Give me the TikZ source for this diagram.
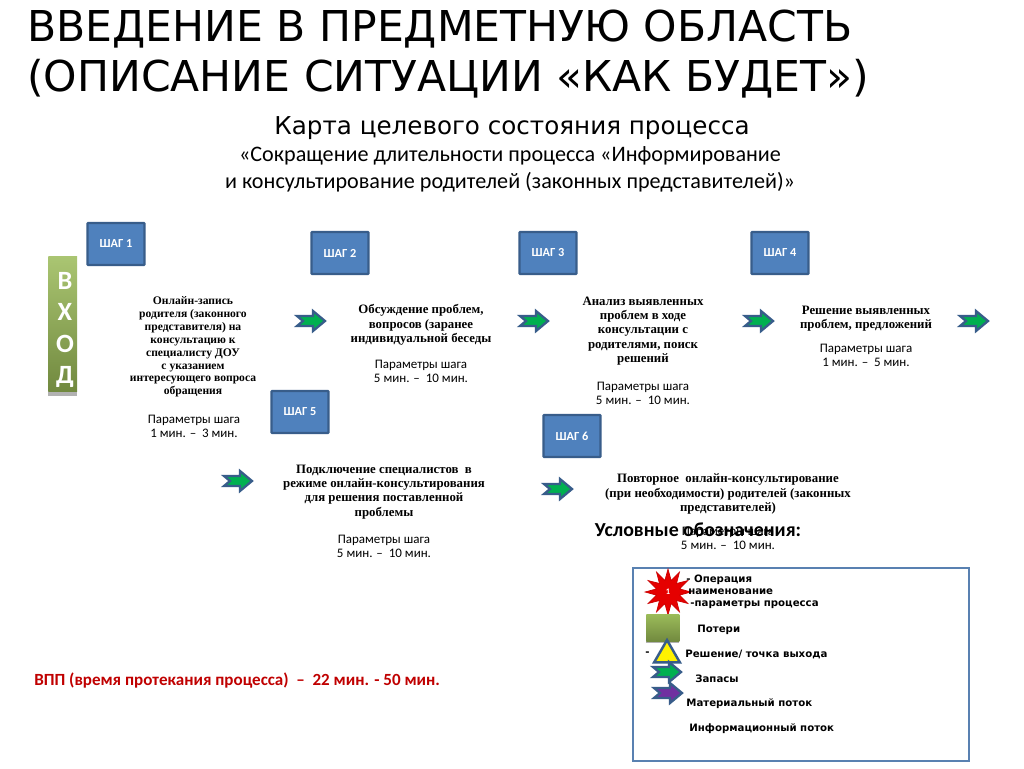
\documentclass[tikz,border=0pt]{standalone}
\usepackage{fontspec}
\setmainfont{Carlito}
\newfontfamily\titlefont{DejaVu Sans}
\newfontfamily\stepfont{Liberation Serif}
\usetikzlibrary{shapes.geometric}
\definecolor{stepblue}{HTML}{4F81BD}
\definecolor{stepline}{HTML}{385D8A}
\definecolor{flowgreen}{HTML}{00B050}
\definecolor{flowviolet}{HTML}{7030A0}
\definecolor{entrygreen}{HTML}{9BBB59}
\definecolor{entrydark}{HTML}{71893F}
\definecolor{vppred}{HTML}{C00000}
\tikzset{
  stepbox/.style={draw=stepline, line width=1.3pt, fill=stepblue, minimum width=32.5pt,
    minimum height=24pt, inner sep=0pt, rounded corners=0.5pt, text=white,
    font=\fontsize{7}{8}\selectfont\bfseries},
  stepname/.style={align=center, font=\fontsize{7.3}{8.1}\stepfont\bfseries},
  stepparam/.style={align=center, font=\fontsize{7.4}{8}\selectfont},
  legendtext/.style={anchor=west, inner sep=0pt, font=\fontsize{5.8}{6}\titlefont\bfseries},
  pics/flowarrow/.style={code={
    \draw[draw=stepline, line width=1.3pt, fill=#1, line join=miter]
      (-14,-5) -- (2,-5) -- (2,-10) -- (14,0) -- (2,10) -- (2,5) -- (-14,5) -- (-8,0) -- cycle;
  }}
}
\begin{document}
\begin{tikzpicture}[x=0.02cm, y=-0.02cm]
  \useasboundingbox (0,0) rectangle (1024,768);
  \fill[white] (0,0) rectangle (1024,768);

  %% ---------- title block ----------
  \node[anchor=west, inner sep=0pt, align=left, font=\fontsize{24.2}{28.6}\titlefont] (title) at (27,54)
    {ВВЕДЕНИЕ В ПРЕДМЕТНУЮ ОБЛАСТЬ\\(ОПИСАНИЕ СИТУАЦИИ «КАК БУДЕТ»)};
  \node[inner sep=0pt, font=\fontsize{14}{16}\titlefont] (maptitle) at (512,128) {Карта целевого состояния процесса};
  \node[inner sep=0pt, align=center, font=\fontsize{12.6}{15.4}\selectfont] (mapname) at (510,169)
    {«Сокращение длительности процесса «Информирование\\и консультирование родителей (законных представителей)»};

  %% ---------- entry bar ----------
  \fill[gray!60] (48,257) rectangle (77,396);
  \node[minimum width=16.4pt, minimum height=77pt, inner sep=0pt, anchor=north west,
    top color=entrygreen!85!white, bottom color=entrydark] (entry) at (48,256) {};
  \node[inner sep=0pt, align=center, text=white, font=\fontsize{15}{17.8}\selectfont\bfseries]
    (entrytext) at (65,330) {В\\Х\\О\\Д};

  %% ---------- steps ----------
  \node[stepbox] (s1) at (116,244) {ШАГ 1};
  \node[stepbox] (s2) at (340,253) {ШАГ 2};
  \node[stepbox] (s3) at (548,253) {ШАГ 3};
  \node[stepbox] (s4) at (780,253) {ШАГ 4};
  \node[stepbox] (s5) at (300,412) {ШАГ 5};
  \node[stepbox] (s6) at (572,436) {ШАГ 6};

  \node[stepname, font=\fontsize{6.6}{7.3}\stepfont\bfseries] (n1) at (193,347) {Онлайн-запись\\родителя (законного\\представителя) на\\консультацию к\\специалисту ДОУ\\с указанием\\интересующего вопроса\\обращения};
  \node[stepparam] (p1) at (194,426) {Параметры шага\\1 мин. –\ \ 3 мин.};
  \node[stepname] (n2) at (421,325) {Обсуждение проблем,\\вопросов (заранее\\индивидуальной беседы};
  \node[stepparam] (p2) at (421,371) {Параметры шага\\5 мин. –\ \ 10 мин.};
  \node[stepname] (n3) at (643,331) {Анализ выявленных\\проблем в ходе\\консультации с\\родителями, поиск\\решений};
  \node[stepparam] (p3) at (643,393) {Параметры шага\\5 мин. –\ \ 10 мин.};
  \node[stepname] (n4) at (866,319) {Решение выявленных\\проблем, предложений};
  \node[stepparam] (p4) at (866,355) {Параметры шага\\1 мин. –\ \ 5 мин.};
  \node[stepname] (n5) at (384,492) {Подключение специалистов\ \ в\\режиме онлайн-консультирования\\для решения поставленной\\проблемы};
  \node[stepparam] (p5) at (384,546) {Параметры шага\\5 мин. –\ \ 10 мин.};
  \node[stepname] (n6) at (728,494) {Повторное\ \ онлайн-консультирование\\(при необходимости) родителей (законных\\представителей)};
  \node[stepparam] (p6) at (728,538) {Параметры шага\\5 мин. –\ \ 10 мин.};

  \foreach \x/\y in {311/321, 534/321, 759/321, 974/321, 238/481, 558/489}
    \pic at (\x,\y) {flowarrow=flowgreen};

  \node[inner sep=0pt, font=\fontsize{11.3}{13}\selectfont\bfseries] (legendtitle) at (698,530) {Условные обозначения:};
  \node[anchor=west, inner sep=0pt, text=vppred, font=\fontsize{9.7}{11}\selectfont\bfseries] (vpp) at (34,681)
    {ВПП (время протекания процесса)\ \ –\ \ 22 мин. - 50 мин.};

  %% ---------- legend ----------
  \draw[draw=stepblue!80!gray, line width=1.2pt, fill=white] (633,568) rectangle (969,761);
  \node[star, star points=12, star point ratio=1.9, minimum size=26pt, inner sep=0pt,
    draw=red!80!black, fill=red!90!black, text=white, font=\fontsize{4.8}{5}\selectfont\bfseries] (op) at (668,592) {1};
  \fill[gray!60] (646,620) rectangle (679,643);
  \node[minimum width=18.8pt, minimum height=15.5pt, inner sep=0pt, anchor=north west,
    top color=entrygreen, bottom color=entrydark] (loss) at (646,614) {};
  \node[draw=stepline, line width=1.4pt, fill=yellow, regular polygon, regular polygon sides=3,
    minimum size=17pt, inner sep=0pt] (exit) at (667,655) {};
  \pic at (667,672) {flowarrow=flowgreen};
  \pic at (668,693) {flowarrow=flowviolet};
  \node[legendtext] (l1) at (686,580) {- Операция};
  \node[legendtext] (l2) at (688,592) {наименование};
  \node[legendtext] (l3) at (690,605) {-параметры процесса};
  \node[legendtext] (l4) at (697,630) {Потери};
  \node[legendtext] (l5) at (645,654) {-};
  \node[legendtext] (l6) at (685,654) {Решение/ точка выхода};
  \node[legendtext] (l7) at (695,679) {Запасы};
  \node[legendtext] (l8) at (686,704) {Материальный поток};
  \node[legendtext] (l9) at (689,729) {Информационный поток};
\end{tikzpicture}
\end{document}
